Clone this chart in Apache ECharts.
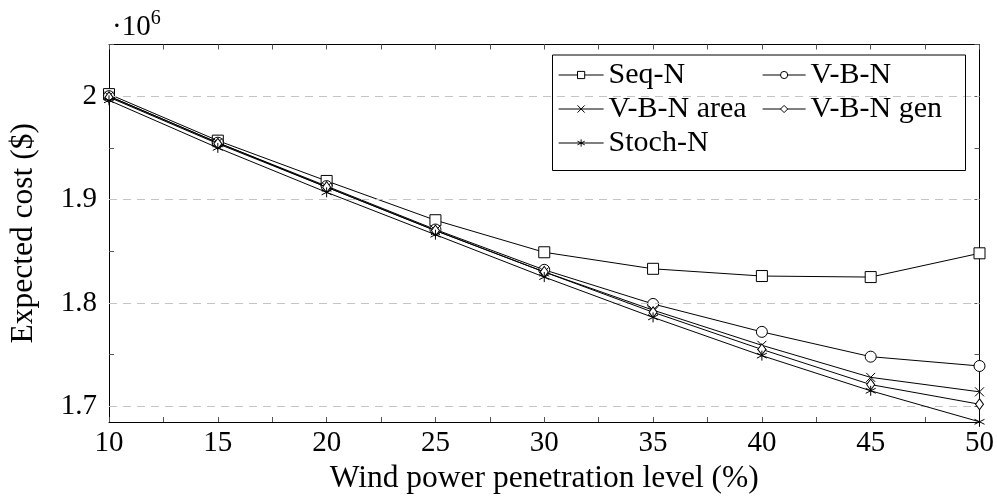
<!DOCTYPE html>
<html>
<head>
<meta charset="utf-8">
<script src="https://cdn.jsdelivr.net/npm/echarts@6/dist/echarts.min.js"></script>
<style>
html,body{margin:0;padding:0;background:#fff;}
#c{width:997px;height:501px;}
</style>
</head>
<body>
<div id="c"></div>
<script>
// Wind power penetration level (%)
const penetration = [10, 15, 20, 25, 30, 35, 40, 45, 50];
// Expected cost in units of 10^6 $
const seqN      = [2.002, 1.957, 1.918, 1.880, 1.849, 1.833, 1.826, 1.825, 1.848];
const vbN       = [2.000, 1.955, 1.913, 1.871, 1.832, 1.799, 1.772, 1.748, 1.739];
const vbNArea   = [2.000, 1.955, 1.912, 1.870, 1.830, 1.793, 1.759, 1.728, 1.714];
const vbNGen    = [1.999, 1.954, 1.912, 1.870, 1.830, 1.791, 1.755, 1.721, 1.702];
const stochN    = [1.996, 1.950, 1.907, 1.866, 1.825, 1.786, 1.749, 1.715, 1.685];
const seriesNames = ['Seq-N', 'V-B-N', 'V-B-N area', 'V-B-N gen', 'Stoch-N'];
const yLabelTicks = [1.7, 1.8, 1.9, 2.0];
const yAllTicks = [1.7, 1.75, 1.8, 1.85, 1.9, 1.95, 2.0, 2.05];
const yMin = 1.6848, yMax = 2.05;

const FONT = 'Liberation Serif';
const FS = 29;     // tick labels
const FT = 31.5;   // axis titles
const FL = 30;     // legend
const symbols = {
  'Seq-N': 'rect',
  'V-B-N': 'circle',
  'V-B-N area': 'path://M0,0L10,10M10,0L0,10',
  'V-B-N gen': 'diamond',
  'Stoch-N': 'path://M5,0L5,10M0.67,2.5L9.33,7.5M0.67,7.5L9.33,2.5'
};
const sizes = {'Seq-N':[11,11],'V-B-N':11,'V-B-N area':9,'V-B-N gen':[8,11],'Stoch-N':10};
const dataMap = {'Seq-N':seqN,'V-B-N':vbN,'V-B-N area':vbNArea,'V-B-N gen':vbNGen,'Stoch-N':stochN};

const chart = echarts.init(document.getElementById('c'), null, {renderer:'canvas'});

const axisCommonX = {
  type:'value', min:10, max:50, interval:5,
  axisLine:{show:true, onZero:false, lineStyle:{color:'#000', width:1}},
  axisTick:{show:true, inside:true, length:5, lineStyle:{color:'#555'}},
  minorTick:{show:true, splitNumber:2, length:5, lineStyle:{color:'#555'}},
  splitLine:{show:false}
};
const axisCommonY = {
  type:'value', min:yMin, max:yMax,
  axisLine:{show:true, onZero:false, lineStyle:{color:'#000', width:1}},
  axisTick:{show:true, inside:true, length:5, customValues:yAllTicks, lineStyle:{color:'#555'}},
  splitLine:{show:false}
};

const series = seriesNames.map((n,i)=>({
  name:n, type:'line', z:3+i,
  data: penetration.map((x,j)=>[x, dataMap[n][j]]),
  symbol: symbols[n], symbolSize: sizes[n],
  showAllSymbol:true,
  lineStyle:{color:'#000', width:1},
  itemStyle:{color:'#fff', borderColor:'#000', borderWidth:1},
  emphasis:{disabled:true},
  animation:false
}));
series.unshift({
  name:'grid', type:'line', data:[], z:1, silent:true, animation:false,
  markLine:{silent:true, symbol:'none', animation:false, label:{show:false},
    lineStyle:{type:[8,6], color:'#c4c4c4', width:1},
    data: yLabelTicks.map(v=>({yAxis:v}))}
});

const legendPos = [
  {name:'Seq-N', left:558, top:60, w:45},
  {name:'V-B-N', left:762, top:60, w:43},
  {name:'V-B-N area', left:558, top:94, w:45},
  {name:'V-B-N gen', left:762, top:94, w:43},
  {name:'Stoch-N', left:558, top:128, w:45}
];

chart.setOption({
  animation:false,
  backgroundColor:'#fff',
  grid:{left:107, right:15.5, top:44.5, bottom:79, containLabel:false},
  xAxis:[
    Object.assign({}, axisCommonX, {position:'bottom',
      name:'Wind power penetration level (%)', nameLocation:'middle', nameGap:41,
      nameMoveOverlap:false,
      nameTextStyle:{fontFamily:FONT, fontSize:FT, color:'#000'},
      axisLabel:{show:true, margin:7, fontFamily:FONT, fontSize:FS, color:'#000'}}),
    Object.assign({}, axisCommonX, {position:'top', axisLabel:{show:false}})
  ],
  yAxis:[
    Object.assign({}, axisCommonY, {position:'left',
      name:'Expected cost ($)', nameLocation:'middle', nameGap:69, nameRotate:90,
      nameMoveOverlap:false,
      nameTextStyle:{fontFamily:FONT, fontSize:FT, color:'#000'},
      axisLabel:{show:true, customValues:yLabelTicks, margin:12, fontFamily:FONT, fontSize:FS, color:'#000',
        formatter:v=> (Math.round(v*10)/10===2 ? '2' : v.toFixed(1))}}),
    Object.assign({}, axisCommonY, {position:'right', axisLabel:{show:false}})
  ],
  legend: legendPos.map(p=>({
    data:[p.name], left:p.left, top:p.top, orient:'horizontal',
    itemWidth:p.w, itemHeight:9, itemGap:0, padding:0,
    lineStyle:{width:1.2, color:'#000'},
    itemStyle:{borderWidth:1, borderColor:'#000'},
    textStyle:{fontFamily:FONT, fontSize:FL, color:'#000'},
    selectedMode:false
  })),
  graphic:[
    {type:'rect', left:550, top:52.5, shape:{width:413, height:115.5},
     style:{fill:'none', stroke:'#000', lineWidth:1}, z:100},
    {type:'text', left:112, top:9, z:100,
     style:{text:'{a|·10}{b|6}', rich:{
       a:{fontFamily:FONT, fontSize:FS, fill:'#000', verticalAlign:'bottom'},
       b:{fontFamily:FONT, fontSize:20, fill:'#000', verticalAlign:'top', padding:[0,0,13,0]}}}}
  ],
  series: series
});
</script>
</body>
</html>
